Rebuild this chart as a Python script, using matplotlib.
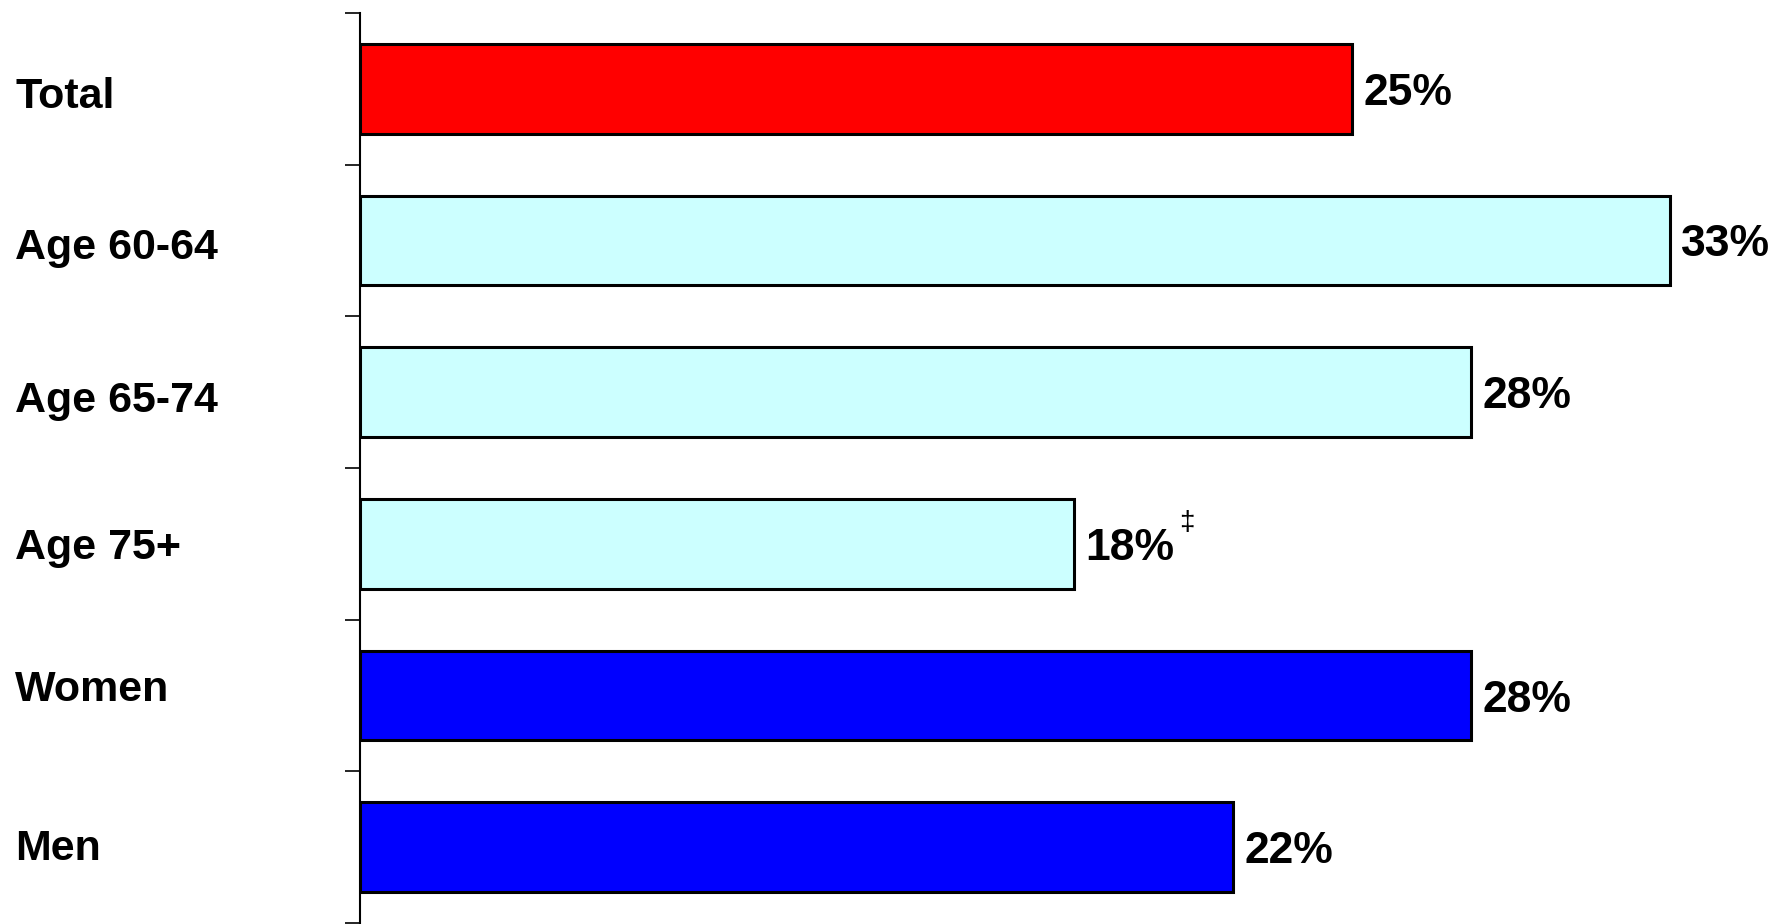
import matplotlib
matplotlib.use("Agg")
import matplotlib.pyplot as plt
import matplotlib.transforms as mtransforms
import numpy as np

plt.rcParams['font.family'] = ['Liberation Sans', 'DejaVu Sans']

# data
categories = ["Total", "Age 60-64", "Age 65-74", "Age 75+", "Women", "Men"]
values = [25, 33, 28, 18, 28, 22]
notes = ["", "", "", "\u2021", "", ""]
colors = ["#FF0000", "#CCFFFF", "#CCFFFF", "#CCFFFF", "#0000FF", "#0000FF"]
# small vertical nudges of the category labels (points), as in the original slide
label_dy = [-3, -2, -3, 0, 7, 2]

fig = plt.figure(figsize=(17.73, 9.24), dpi=100)
ax = fig.add_axes([360/1773, 1/924, 1 - 360/1773, 910/924])

y = np.arange(len(categories))
ax.barh(y, values, height=0.59, color=colors, edgecolor="black", linewidth=2.2)

ax.set_xlim(0, 35.6)
ax.set_ylim(len(categories) - 0.5, -0.5)

# value labels
for yi, v, n in zip(y, values, notes):
    t = ax.annotate(f"{v}%", (v, yi), xytext=(8, 0), textcoords="offset points",
                    ha="left", va="center_baseline", fontsize=32, fontweight="bold")
    if n:
        ax.annotate(n, (1, 0.5), xycoords=t, xytext=(3, 18), textcoords="offset points",
                    ha="left", va="center", fontsize=20)

# category labels, left aligned at fig edge
trans = mtransforms.blended_transform_factory(fig.transFigure, ax.transData)
for yi, c, dy in zip(y, categories, label_dy):
    ax.annotate(c, (15/1773, yi), xycoords=trans, xytext=(0, dy), textcoords="offset points",
                ha="left", va="center_baseline", fontsize=31, fontweight="bold")

# boundary ticks only
ax.set_yticks(np.arange(-0.5, len(categories) + 0.5, 1))
ax.set_yticklabels([])
ax.tick_params(axis="y", length=11, width=1.2, direction="out")
ax.set_xticks([])
for s in ["top", "right", "bottom"]:
    ax.spines[s].set_visible(False)
ax.spines["left"].set_linewidth(1.5)

fig.savefig("out.png", dpi=100)
